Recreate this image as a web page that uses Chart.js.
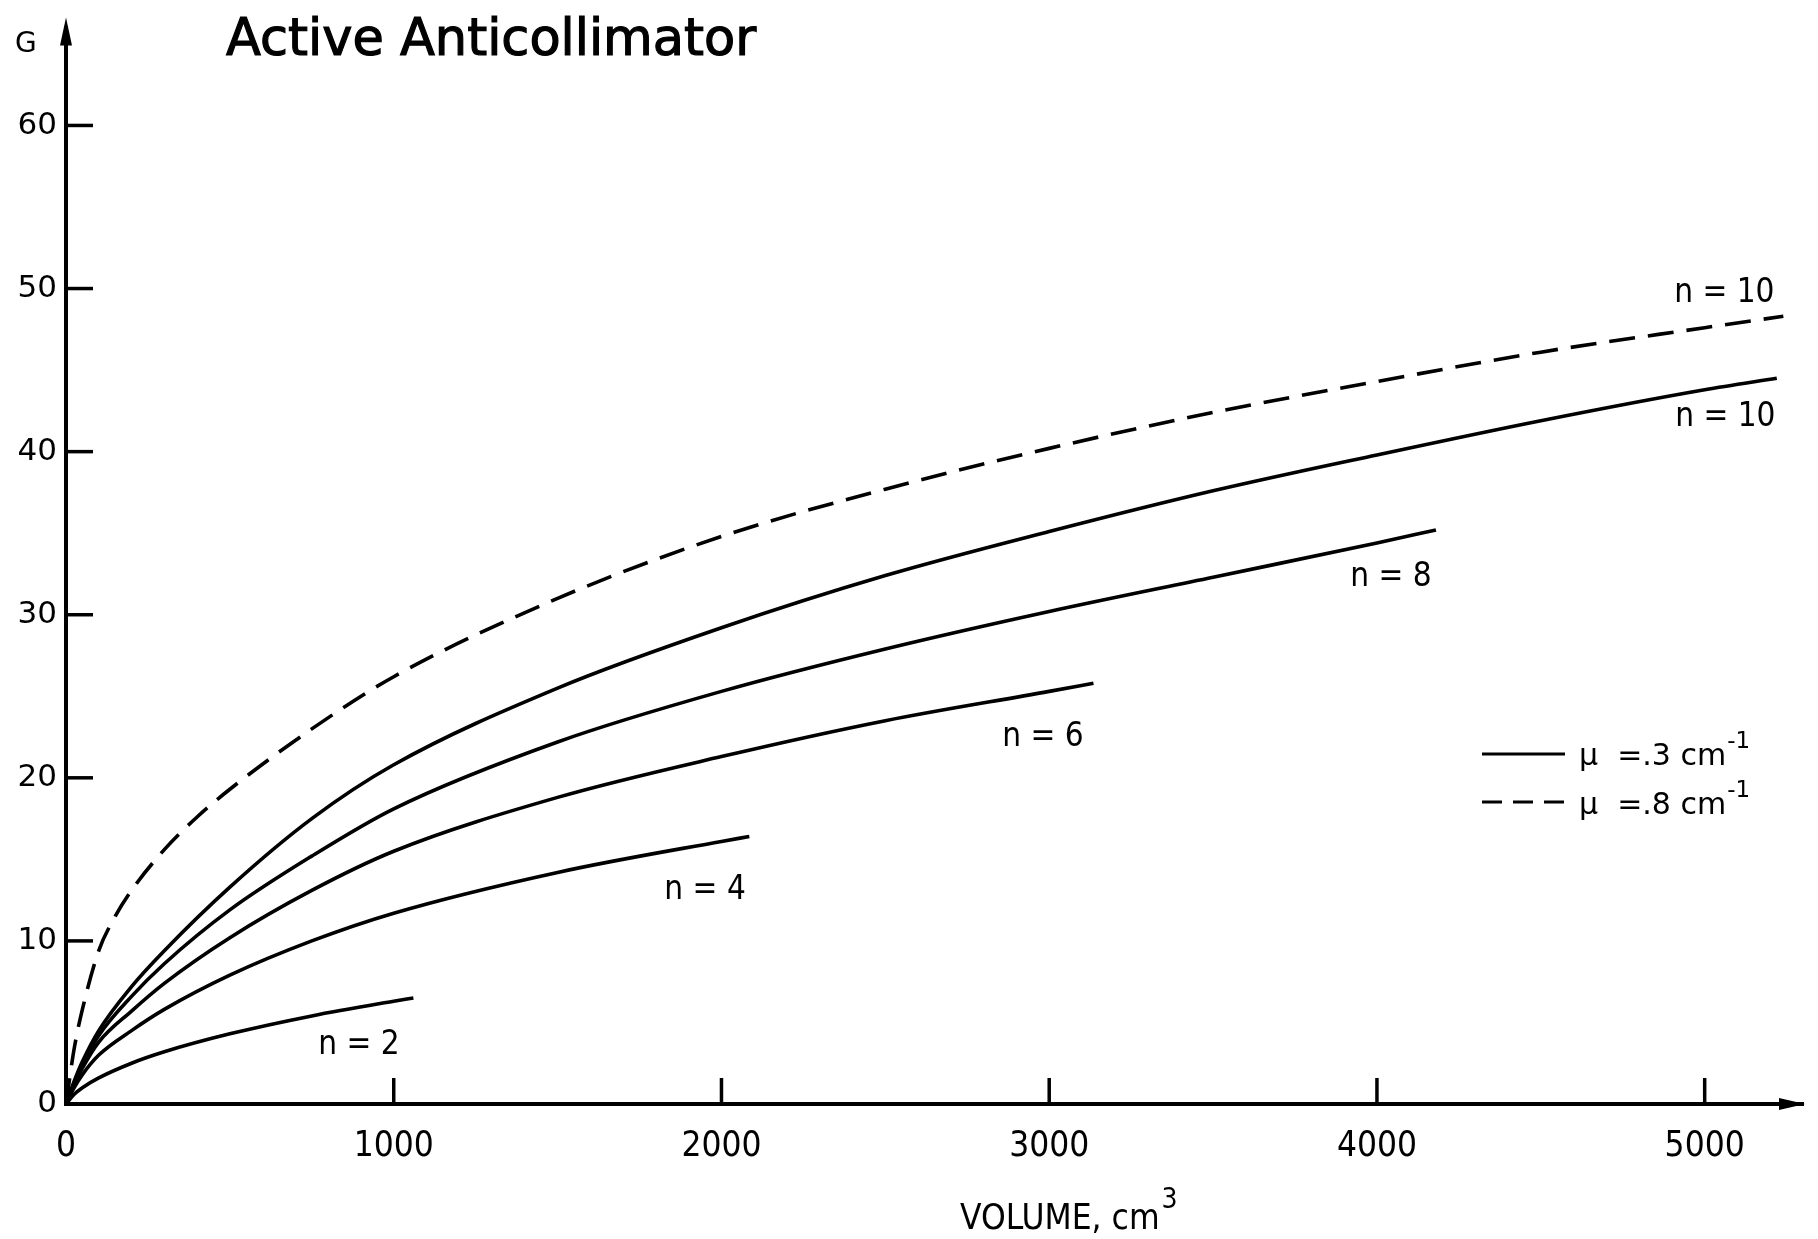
<!DOCTYPE html>
<html><head><meta charset="utf-8">
<script src="https://cdn.jsdelivr.net/npm/chart.js@4.4.1/dist/chart.umd.min.js"></script>
<style>html,body{margin:0;padding:0;background:#fff;}canvas{display:block;}</style>
</head><body>
<canvas id="c" width="1818" height="1239"></canvas>
<script>
// ---- data ----
const volumeTicks = [0, 1000, 2000, 3000, 4000, 5000];
const gTicks = [0, 10, 20, 30, 40, 50, 60];

// mu = .8 cm^-1, n = 10 (dashed)
const volDashed10 = [0, 25, 50, 100, 150, 200, 300, 400, 500, 750, 1000, 1500, 2000, 2500, 3000, 3500, 4000, 4500, 5000, 5240];
const gDashed10   = [0, 3.4, 5.8, 9.4, 11.5, 13.1, 15.6, 17.6, 19.3, 23.0, 26.2, 31.0, 34.8, 37.7, 40.2, 42.4, 44.3, 46.1, 47.6, 48.3];
// mu = .3 cm^-1 (solid)
const volN10 = [0, 25, 50, 100, 200, 300, 500, 750, 1000, 1500, 2000, 2500, 3000, 3500, 4000, 4500, 5000, 5220];
const gN10   = [0, 1.4, 2.6, 4.5, 7.2, 9.4, 13.3, 17.5, 20.8, 25.5, 29.2, 32.4, 35.1, 37.6, 39.8, 41.9, 43.8, 44.5];
const volN8 = [0, 25, 50, 100, 200, 300, 500, 750, 1000, 1500, 2000, 2500, 3000, 3500, 4000, 4180];
const gN8   = [0, 1.3, 2.4, 4.2, 6.6, 8.6, 11.9, 15.2, 18.1, 22.2, 25.3, 27.9, 30.2, 32.3, 34.4, 35.2];
const volN6 = [0, 25, 50, 100, 200, 300, 500, 750, 1000, 1500, 2000, 2500, 3000, 3135];
const gN6   = [0, 1.2, 2.2, 3.8, 5.7, 7.4, 10.2, 13.1, 15.5, 18.8, 21.3, 23.5, 25.3, 25.8];
const volN4 = [0, 25, 50, 100, 200, 300, 500, 750, 1000, 1500, 2000, 2085];
const gN4   = [0, 1.0, 1.8, 3.0, 4.5, 5.8, 7.9, 10.0, 11.7, 14.2, 16.1, 16.4];
const volN2 = [0, 25, 50, 100, 200, 300, 500, 750, 1000, 1060];
const gN2   = [0, 0.6, 1.0, 1.6, 2.5, 3.2, 4.3, 5.4, 6.3, 6.5];

// curve labels, anchored in data units
const curveLabelText = ['n = 10', 'n = 10', 'n = 8', 'n = 6', 'n = 4', 'n = 2'];
const curveLabelVol  = [5060, 5063, 4043, 2981, 1950, 894];
const curveLabelG    = [49.7, 42.1, 32.3, 22.5, 13.1, 3.6];

const titleText = 'Active Anticollimator';
const yTitle = 'G';
const xTitle = 'VOLUME, cm';
const xTitleSup = '3';
const legendText = ['\u00b5  =.3 cm', '\u00b5  =.8 cm'];
const legendSup = '-1';

const NARROW = "'Liberation Sans Narrow', 'DejaVu Sans Condensed', sans-serif";
const WIDE = "'DejaVu Sans', sans-serif";

const pts = (xs, ys) => xs.map((v, i) => ({x: v, y: ys[i]}));
const base = {borderColor: '#000', borderWidth: 3.6, pointRadius: 0, fill: false, cubicInterpolationMode: 'monotone'};

const decor = {
  id: 'decor',
  afterDraw(chart) {
    const {ctx, scales: {x, y}} = chart;
    ctx.save();
    ctx.strokeStyle = '#000'; ctx.fillStyle = '#000'; ctx.lineCap = 'butt';
    const x0 = x.getPixelForValue(0), y0 = y.getPixelForValue(0);
    // inward ticks
    ctx.lineWidth = 3.5;
    gTicks.slice(1).forEach(v => { const py = y.getPixelForValue(v); ctx.beginPath(); ctx.moveTo(x0, py); ctx.lineTo(x0 + 27, py); ctx.stroke(); });
    volumeTicks.slice(1).forEach(v => { const px = x.getPixelForValue(v); ctx.beginPath(); ctx.moveTo(px, y0); ctx.lineTo(px, y0 - 26); ctx.stroke(); });
    // arrows
    const yTop = y.getPixelForValue(y.max);
    ctx.beginPath(); ctx.moveTo(x0, yTop - 10); ctx.lineTo(x0 - 6, yTop + 18); ctx.lineTo(x0 + 6, yTop + 18); ctx.closePath(); ctx.fill();
    const xRight = x.getPixelForValue(x.max);
    ctx.beginPath(); ctx.moveTo(xRight + 2, y0); ctx.lineTo(xRight - 24, y0 - 6); ctx.lineTo(xRight - 24, y0 + 6); ctx.closePath(); ctx.fill();
    // title
    ctx.textBaseline = 'alphabetic'; ctx.textAlign = 'left';
    ctx.lineWidth = 1.2;
    ctx.font = '51px ' + WIDE; ctx.fillText(titleText, 226, 55); ctx.strokeText(titleText, 226, 55);
    ctx.font = '28px ' + WIDE; ctx.fillText(yTitle, 15, 52);
    // x title
    ctx.font = '35px ' + NARROW; ctx.fillText(xTitle, 960, 1229);
    const w = ctx.measureText(xTitle).width;
    ctx.font = '28px ' + NARROW; ctx.fillText(xTitleSup, 960 + w + 2, 1208);
    // curve labels
    ctx.textAlign = 'center'; ctx.textBaseline = 'middle';
    ctx.font = '33px ' + NARROW;
    curveLabelText.forEach((t, i) => ctx.fillText(t, x.getPixelForValue(curveLabelVol[i]), y.getPixelForValue(curveLabelG[i])));
    // legend
    ctx.lineWidth = 3;
    ctx.beginPath(); ctx.moveTo(1482, 754); ctx.lineTo(1565, 754); ctx.stroke();
    ctx.setLineDash([20, 11]); ctx.beginPath(); ctx.moveTo(1482, 802); ctx.lineTo(1565, 802); ctx.stroke(); ctx.setLineDash([]);
    ctx.textAlign = 'left'; ctx.textBaseline = 'alphabetic';
    [765, 814].forEach((by, i) => {
      ctx.font = '30px ' + WIDE; ctx.fillText(legendText[i], 1579, by);
      const lw = ctx.measureText(legendText[i]).width;
      ctx.font = '23px ' + WIDE; ctx.fillText(legendSup, 1579 + lw + 1, by - 17);
    });
    ctx.restore();
  }
};

new Chart(document.getElementById('c'), {
  type: 'line',
  data: {
    datasets: [
      Object.assign({label: 'mu .8 n=10', data: pts(volDashed10, gDashed10), borderDash: [26, 13]}, base),
      Object.assign({label: 'mu .3 n=10', data: pts(volN10, gN10)}, base),
      Object.assign({label: 'mu .3 n=8', data: pts(volN8, gN8)}, base),
      Object.assign({label: 'mu .3 n=6', data: pts(volN6, gN6)}, base),
      Object.assign({label: 'mu .3 n=4', data: pts(volN4, gN4)}, base),
      Object.assign({label: 'mu .3 n=2', data: pts(volN2, gN2)}, base)
    ]
  },
  options: {
    responsive: false, animation: false, devicePixelRatio: 1,
    layout: {padding: {top: 18, right: 15, left: 0, bottom: 0}},
    plugins: {legend: {display: false}, tooltip: {enabled: false}},
    scales: {
      x: {
        type: 'linear', min: 0, max: 5300,
        afterBuildTicks: s => { s.ticks = volumeTicks.map(v => ({value: v})); },
        afterFit: s => { s.height = 135; },
        ticks: {color: '#000', font: {family: NARROW, size: 35}, padding: 22, maxRotation: 0, autoSkip: false, callback: v => String(v)},
        grid: {display: true, drawOnChartArea: false, drawTicks: false},
        border: {display: true, color: '#000', width: 4}
      },
      y: {
        type: 'linear', min: 0, max: 66,
        afterBuildTicks: s => { s.ticks = gTicks.map(v => ({value: v})); },
        afterFit: s => { s.width = 66; },
        ticks: {color: '#000', font: {family: WIDE, size: 31}, padding: 9, autoSkip: false, callback: v => String(v)},
        grid: {display: true, drawOnChartArea: false, drawTicks: false},
        border: {display: true, color: '#000', width: 4}
      }
    }
  },
  plugins: [decor]
});
</script>
</body></html>
